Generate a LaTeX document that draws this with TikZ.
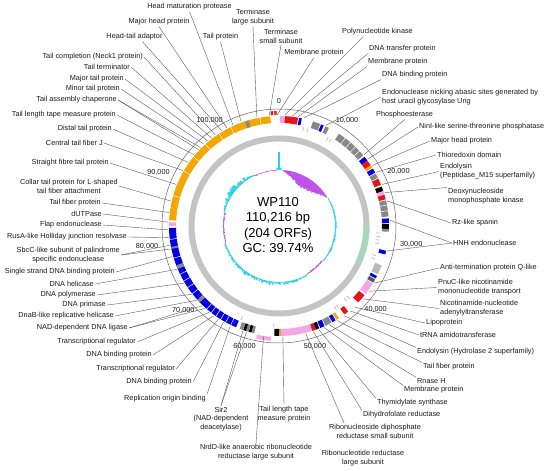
\documentclass[tikz,border=0pt]{standalone}
\usepackage{fontspec}
\setmainfont{Liberation Sans}
\usepackage{xcolor}

\definecolor{tailorange}{RGB}{246,166,0}
\definecolor{replblue}{RGB}{0,0,225}
\definecolor{genered}{RGB}{232,20,28}
\definecolor{genepink}{RGB}{242,168,232}
\definecolor{genegray}{RGB}{135,135,135}
\definecolor{lightgene}{RGB}{185,185,185}
\definecolor{darkgene}{RGB}{90,90,90}
\definecolor{skewpurple}{RGB}{188,80,232}
\definecolor{skewcyan}{RGB}{45,208,232}
\definecolor{ringgray}{RGB}{196,196,196}
\definecolor{ringgreen}{RGB}{168,214,184}

\newcommand{\labfont}{\fontsize{7.3}{8.8}\selectfont}

\tikzset{
  llab/.style={anchor=east,align=center,inner sep=1pt,font=\labfont,text=black!90},
  rlab/.style={anchor=west,align=left,inner sep=1pt,font=\labfont,text=black!90},
  clab/.style={anchor=center,align=center,inner sep=1pt,font=\labfont,text=black!90},
  leader/.style={draw=black!65,line width=0.4pt},
  gene/.style={line width=7pt},
  outgene/.style={line width=4pt},
  sepline/.style={white,line width=0.5pt},
  smalltick/.style={lightgene,line width=0.7pt},
  skewbar/.style={line width=1.2pt},
}

\begin{document}
\begin{tikzpicture}[x=1pt,y=1pt]
\useasboundingbox (-279,-245) rectangle (271,226);

\pgfmathsetseed{11}
\foreach \a in {0,...,359}{
  \pgfmathsetmacro\v{(\a>=3)*(\a<=60)*11*sin(3.1579*(\a-3))*(0.85+0.25*rnd)
    + (\a>60)*(\a<=128)*(-0.5-(0.5+1.5*sin(2.6*(\a-60)))*rnd)
    + (\a>128)*(\a<150)*(0.5+1.2*rnd)
    + (\a>=150)*(\a<=252)*(-0.5-(1+2.5*sin(1.76*(\a-150)))*rnd)
    + (\a>252)*(\a<284)*(0.3+1.2*rnd)
    + (\a>=284)*(\a<=334)*(-0.5-(0.5+5*sin(3.6*(\a-284)))*rnd)
    + (\a>334)*(\a<358)*(0.3+0.7*rnd)
    + (\a>=358)*(-2) + (\a<3)*(-2)}
  \ifdim\v pt>0pt \def\sc{skewpurple}\else\def\sc{skewcyan}\fi
  \draw[skewbar,\sc] ({90-\a}:56) -- ({90-\a}:{56-\v});
}
\draw[skewcyan,line width=1.3pt] (90:56) -- (90:74);

\draw[ringgray,line width=6pt] (0,0) circle[radius=87.5pt];
\draw[ringgreen,line width=6pt] (0:87.5) arc[start angle=0,end angle=-25,radius=87.5pt];

\foreach \s/\e/\c in {0.5/2.6/genepink, 3/10/genered, 10.5/12/replblue, 18/22/genegray,
  22.5/24/replblue, 25/27/genegray, 33/50/genegray, 51/53.5/replblue, 53.5/56.5/genered,
  56.5/58/tailorange, 58.5/61/replblue, 61.5/64/genegray, 64.5/68/genered, 69/71.5/black,
  71.5/73.5/genepink, 73.5/76/genered, 76.5/85/genegray, 86/88.5/replblue, 89/91.5/black,
  91.5/93/genegray, 103/105/replblue, 111/116/lightgene, 117/118.5/replblue, 119/121/darkgene,
  121.5/128/genepink, 129/134/genered, 141/143.5/genered, 147/148.5/tailorange,
  149/151/replblue, 151.5/155/genegray, 155.5/158/replblue, 158.5/160.5/black,
  160.5/162.5/genered, 162.5/179/genepink, 179/180/tailorange, 180/182.5/black,
  193/194.5/genegray, 194.5/196/black, 196/197.5/genegray, 197.5/199/black, 199/201/genegray,
  203/269/replblue, 226/228/genegray, 247/249/genegray, 258/259/genegray,
  270/272/genepink, 273/355.5/tailorange, 342/344/genegray}
  \draw[gene,\c] ({90-\s}:106.5) arc[start angle={90-\s},end angle={90-\e},radius=106.5pt];

\foreach \s/\e/\c in {184/191.5/genepink, 355.8/357/genered, 357.6/358.8/genered}
  \draw[outgene,\c] ({90-\s}:113) arc[start angle={90-\s},end angle={90-\e},radius=113pt];

\foreach \t in {37,40.5,44,47,79,82,206,209,212,215,218,221,232,236,240,244,253,263,
  286,300,309,318,327,334,350}
  \draw[sepline] ({90-\t}:102.5) -- ({90-\t}:110.5);

\foreach \t in {14,16.5,29,31,94,96,98,100,107,109,136,138,144,145.5,183,202}
  \draw[smalltick] ({90-\t}:97.5) -- ({90-\t}:101.5);

\draw[black!60,line width=0.5pt] (0,0) circle[radius=117pt];

\foreach \t/\l [evaluate=\t as \ang using 270-\t, count=\i] in {0/0, 32.66/{10,000},
  65.33/{20,000}, 97.99/{30,000}, 130.65/{40,000}, 163.32/{50,000}, 195.98/{60,000},
  228.64/{70,000}, 261.31/{80,000}, 293.97/{90,000}, 326.63/{100,000}}
  \node[clab,anchor=\ang] (k\i) at ({90-\t}:121) {\l};

\node[align=center,font=\fontsize{13}{15.3}\selectfont] (title) at (-1,1)
  {WP110\\110,216 bp\\(204 ORFs)\\GC: 39.74\%};

\foreach \n/\x/\y/\s/\t/\txt in {
  tcp/144/57/east/325/{Tail completion (Neck1 protein)},
  tterm/131/67/east/322.5/{Tail terminator},
  mtp/125/79/east/320/{Major tail protein},
  mntp/121/89/east/317.5/{Minor tail protein},
  tac/118/100/east/315/{Tail assembly chaperone},
  tlt/117/115/east/310/{Tail length tape measure protein},
  dtp/113/129/east/305/{Distal tail protein},
  ctf/104/143/east/300/{Central tail fiber J},
  sft/110/163/east/292/{Straight fibre tail protein},
  ctp/119/186/east/283/{Collar tail protein for L-shaped\\tail fiber attachment},
  tfp/102/203/east/277/{Tail fiber protein},
  dut/103/214/east/272/{dUTPase},
  flap/103/225/east/268/{Flap endonuclease},
  rusa/128/237/east/264/{RusA-like Holliday junction resolvase},
  sbcc/121/255/east/260/{SbcC-like subunit of palindrome\\specific endonuclease},
  ssb/116/272/east/254/{Single strand DNA binding protein},
  hel/95/284/east/247/{DNA helicase},
  pol/97/295/east/239/{DNA polymerase},
  pri/107/305/east/232/{DNA primase},
  dnab/115/316/east/228/{DnaB-like replicative helicase},
  lig/129/328/east/224/{NAD-dependent DNA ligase},
  tr1/137/342/east/219/{Transcriptional regulator},
  db1/153/355/east/216/{DNA binding protein},
  tr2/176/369/east/213/{Transcriptional regulator},
  db2/193/382/east/210/{DNA binding protein}}
{
  \node[llab] (\n) at ({\x-279},{226-\y}) {\txt};
  \coordinate (e\n) at ({90-\t}:111);
  \draw[leader] (\n.\s) -- (e\n);
}

\foreach \n/\x/\y/\s/\t/\txt in {
  pnk/341/32/198/3/{Polynucleotide kinase},
  dtp2/368/49/south west/7/{DNA transfer protein},
  mem2/367/62/south west/10/{Membrane protein},
  dbp1/381/75/south west/13/{DNA binding protein},
  endo/381/97/west/25/{Endonuclease nicking abasic sites generated by\\host uracil glycosylase Ung},
  phos/375/115/south/50/{Phosphoesterase},
  nini/418/127/west/53/{NinI-like serine-threonine phosphatase},
  mhp2/430/141/west/57/{Major head protein},
  thio/436/155/west/61/{Thioredoxin domain},
  endm/439/171.5/west/68/{Endolysin\\(Peptidase\_M15 superfamily)},
  deoxy/447/196.5/north west/72.5/{Deoxynucleoside\\monophosphate kinase},
  rz/451/223/west/77/{Rz-like spanin},
  hnh/452/243/west/87/{HNH endonuclease},
  anti/439/268/west/121/{Anti-termination protein Q-like},
  pnuc/437/287.5/west/126/{PnuC-like nicotinamide\\mononucleotide transport},
  nic/439/308.5/west/131/{Nicotinamide-nucleotide\\adenylyltransferase},
  lipo/425/323/west/137/{Lipoprotein},
  trna/419/335/west/140/{tRNA amidotransferase},
  endh/416/352/north west/144/{Endolysin (Hydrolase 2 superfamily)},
  tfp2/422/367/north west/148.5/{Tail fiber protein},
  rnh/416/381/north west/153/{Rnase H},
  mem3/403/390/north west/156/{Membrane protein},
  thy/376/403/north west/159/{Thymidylate synthase},
  dhfr/362/415/north west/162/{Dihydrofolate reductase}}
{
  \node[rlab] (\n) at ({\x-279},{226-\y}) {\txt};
  \coordinate (e\n) at ({90-\t}:111);
  \draw[leader] (\n.\s) -- (e\n);
}

\foreach \n/\x/\y/\s/\t/\txt in {
  hmp/189.5/7/south/335.5/{Head maturation protease},
  mhp/159/22/south/332/{Major head protein},
  hta/134.5/37/-30/329/{Head-tail adaptor},
  tp/220.5/37/south/340/{Tail protein},
  terl/253/17.5/south/348.5/{Terminase\\large subunit},
  ters/281/36.5/south/355/{Terminase\\small subunit},
  mem1/314/53/south/359/{Membrane protein},
  rep/165/399/north east/206/{Replication origin binding},
  sir2/221/419/north/199/{Sir2\\(NAD-dependent\\deacetylase)},
  nrdd/256/452.5/north/188/{NrdD-like anaerobic ribonucleotide\\reductase large subunit},
  tlt2/284/414/north/178/{Tail length tape\\measure protein},
  rdp/375/431.5/165/166/{Ribonucleoside diphosphate\\reductase small subunit}}
{
  \node[clab] (\n) at ({\x-279},{226-\y}) {\txt};
  \coordinate (e\n) at ({90-\t}:111);
  \draw[leader] (\n.\s) -- (e\n);
}
\node[clab] (rnr) at (84,-232.5) {Ribonucleotide reductase\\large subunit};

\foreach \n/\s/\t in {tac/east/313.5, sbcc/east/258, lig/east/222, hnh/west/103, sir2/north/197}
{
  \coordinate (f\n) at ({90-\t}:111);
  \draw[leader] (\n.\s) -- (f\n);
}
\end{tikzpicture}
\end{document}
